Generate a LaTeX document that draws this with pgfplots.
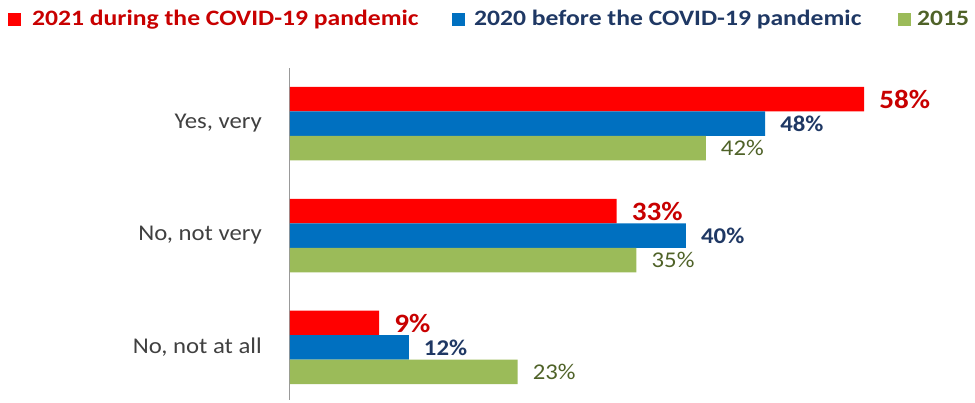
\documentclass[border=0pt]{standalone}
\usepackage{fontspec}
\setmainfont{Carlito}[FakeStretch=1.1]
\newfontfamily\legendfont{Carlito}[FakeStretch=1.165]
\usepackage{pgfplots}
\pgfplotsset{compat=1.18}

\definecolor{barred}{HTML}{FF0000}
\definecolor{barblue}{HTML}{0070C0}
\definecolor{bargreen}{HTML}{9BBB59}
\definecolor{txtred}{HTML}{C80000}
\definecolor{txtblue}{HTML}{1F3864}
\definecolor{txtgreen}{HTML}{4F6228}
\definecolor{txtgray}{HTML}{404040}

\begin{document}
\begin{tikzpicture}
\begin{axis}[
  name=ax,
  xbar,
  scale only axis,
  width=594pt, height=332pt,
  xmin=0, xmax=60,
  ymin=-0.469, ymax=2.496,
  bar width=24.5pt,
  axis lines*=left,
  x axis line style={draw=none},
  y axis line style={draw=black!40, line width=1pt},
  xtick=\empty,
  ytick={0,1,2},
  yticklabels={{No, not at all},{No, not very},{Yes, very}},
  major tick length=0pt,
  yticklabel style={font=\fontsize{22.5}{24}\selectfont, text=txtgray, inner sep=0pt, xshift=-28pt},
  /pgf/number format/assume math mode=true,
  point meta=x,
  nodes near coords={\pgfmathprintnumber{\pgfplotspointmeta}\%},
  every node near coord/.append style={anchor=west, inner sep=0pt, xshift=15pt},
]
% 2021 during the pandemic
\addplot[fill=barred, draw=none, bar shift=24.5pt,
  every node near coord/.append style={text=txtred, font=\bfseries\fontsize{26.5}{28}\selectfont}]
  coordinates {(58,2) (33,1) (9,0)};
% 2020 before the pandemic
\addplot[fill=barblue, draw=none, bar shift=0pt,
  every node near coord/.append style={text=txtblue, font=\bfseries\fontsize{22.5}{24}\selectfont}]
  coordinates {(48,2) (40,1) (12,0)};
% 2015
\addplot[fill=bargreen, draw=none, bar shift=-24.5pt,
  every node near coord/.append style={text=txtgreen, font=\fontsize{22.5}{24}\selectfont}]
  coordinates {(42,2) (35,1) (23,0)};
\end{axis}

\begin{scope}[shift={([xshift=-290pt,yshift=400pt]ax.south west)}, x=1pt, y=-1pt]
  \fill[barred] (8,13) rectangle (21,26);
  \node[anchor=base west, inner sep=0pt, text=txtred, font=\legendfont\bfseries\fontsize{22}{24}\selectfont]
    at (32,26) {2021 during the COVID-19 pandemic};
  \fill[barblue] (452,13) rectangle (465,26);
  \node[anchor=base west, inner sep=0pt, text=txtblue, font=\legendfont\bfseries\fontsize{22}{24}\selectfont]
    at (474,26) {2020 before the COVID-19 pandemic};
  \fill[bargreen] (898,13) rectangle (911,26);
  \node[anchor=base west, inner sep=0pt, text=txtgreen, font=\legendfont\bfseries\fontsize{22}{24}\selectfont]
    at (917,26) {2015};
  \pgfresetboundingbox
  \path[use as bounding box] (0,0) rectangle (975,403);
\end{scope}
\end{tikzpicture}
\end{document}
